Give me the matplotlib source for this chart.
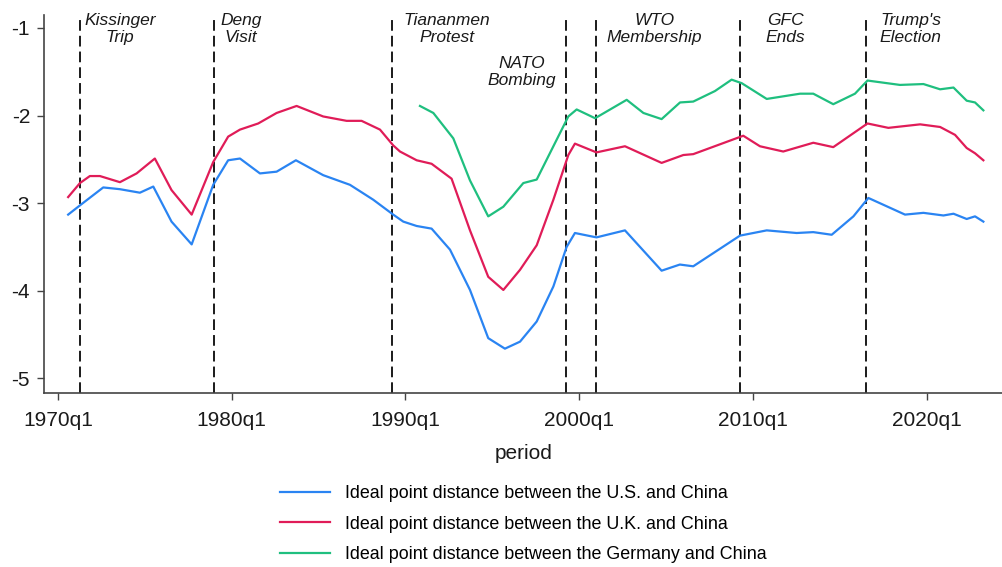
import matplotlib
matplotlib.use("Agg")
import matplotlib.pyplot as plt

plt.rcParams['font.family'] = ['Liberation Sans', 'DejaVu Sans']

# Quarterly period expressed as decimal years (1970q1 = 1970.0)
us_period = [1970.59, 1971.3, 1972.61, 1973.57, 1974.72, 1975.49, 1976.54, 1977.7,
             1978.94, 1979.8, 1980.48, 1981.63, 1982.59, 1983.7, 1985.27, 1986.81,
             1988.15, 1989.3, 1989.88, 1990.65, 1991.51, 1992.57, 1993.72, 1994.77,
             1995.73, 1996.6, 1997.56, 1998.52, 1999.28, 1999.76, 2001.0, 2002.64,
             2004.75, 2005.8, 2006.57, 2009.26, 2010.8, 2012.52, 2013.48, 2014.54,
             2015.79, 2016.65, 2018.76, 2019.82, 2020.97, 2021.55, 2022.31, 2022.79,
             2023.27]
us_dist = [-3.13, -3.02, -2.82, -2.84, -2.88, -2.81, -3.21, -3.47,
           -2.79, -2.51, -2.49, -2.66, -2.64, -2.51, -2.68, -2.79,
           -2.96, -3.13, -3.21, -3.26, -3.29, -3.53, -3.99, -4.54,
           -4.66, -4.58, -4.35, -3.95, -3.50, -3.34, -3.39, -3.31,
           -3.77, -3.70, -3.72, -3.37, -3.31, -3.34, -3.33, -3.36,
           -3.15, -2.94, -3.13, -3.11, -3.14, -3.12, -3.18, -3.15,
           -3.21]

uk_period = [1970.59, 1971.27, 1971.84, 1972.42, 1973.57, 1974.53, 1975.58, 1976.54,
             1977.7, 1978.94, 1979.8, 1980.48, 1981.53, 1982.59, 1983.74, 1985.27,
             1986.62, 1987.48, 1988.54, 1989.3, 1989.69, 1990.65, 1991.51, 1992.66,
             1993.72, 1994.77, 1995.64, 1996.6, 1997.56, 1998.52, 1999.38, 1999.76,
             2001.0, 2002.64, 2004.75, 2006.0, 2006.57, 2009.45, 2010.41, 2011.75,
             2013.48, 2014.63, 2016.6, 2017.8, 2019.63, 2020.78, 2021.64, 2022.31,
             2022.79, 2023.27]
uk_dist = [-2.93, -2.77, -2.69, -2.69, -2.76, -2.66, -2.49, -2.85,
           -3.13, -2.53, -2.24, -2.16, -2.09, -1.97, -1.89, -2.01,
           -2.06, -2.06, -2.16, -2.34, -2.41, -2.51, -2.55, -2.72,
           -3.31, -3.84, -3.99, -3.76, -3.48, -2.96, -2.45, -2.32,
           -2.42, -2.35, -2.54, -2.45, -2.44, -2.23, -2.35, -2.41,
           -2.31, -2.36, -2.09, -2.14, -2.10, -2.13, -2.22, -2.37,
           -2.43, -2.51]

de_period = [1990.84, 1991.61, 1992.76, 1993.72, 1994.77, 1995.64, 1996.79, 1997.56,
             1998.52, 1999.38, 1999.86, 2000.92, 2002.74, 2003.7, 2004.75, 2005.81,
             2006.57, 2007.82, 2008.78, 2009.36, 2010.8, 2012.72, 2013.48, 2014.63,
             2015.88, 2016.6, 2018.47, 2019.82, 2020.78, 2021.55, 2022.31, 2022.79,
             2023.27]
de_dist = [-1.89, -1.97, -2.26, -2.74, -3.15, -3.04, -2.77, -2.73,
           -2.35, -2.01, -1.93, -2.03, -1.82, -1.97, -2.04, -1.85,
           -1.84, -1.72, -1.59, -1.63, -1.81, -1.75, -1.75, -1.87,
           -1.75, -1.60, -1.65, -1.64, -1.70, -1.68, -1.83, -1.85,
           -1.94]

# Event dates and their labels
event_dates = [1971.25, 1979.0, 1989.25, 1999.25, 2001.0, 2009.25, 2016.5]
event_labels = ["Kissinger\nTrip", "Deng\nVisit", "Tiananmen\nProtest", "NATO\nBombing",
                "WTO\nMembership", "GFC\nEnds", "Trump's\nElection"]
label_x = [1973.57, 1980.54, 1992.37, 1996.71, 2004.34, 2011.85, 2019.08]
label_y = [-1.01, -1.01, -1.01, -1.50, -1.01, -1.01, -1.01]

tick_years = [1970, 1980, 1990, 2000, 2010, 2020]
tick_labels = ["1970q1", "1980q1", "1990q1", "2000q1", "2010q1", "2020q1"]

series_labels = ["Ideal point distance between the U.S. and China",
                 "Ideal point distance between the U.K. and China",
                 "Ideal point distance between the Germany and China"]
colors = ["#2a84f2", "#e01c58", "#1fbf7f"]

fig = plt.figure(figsize=(10.03, 5.67), dpi=100)
ax = fig.add_axes([44 / 1003, (567 - 393) / 567, 1 - 44 / 1003, (393 - 15) / 567])

lines = []
for xs, ys, c, lab in zip([us_period, uk_period, de_period], [us_dist, uk_dist, de_dist],
                          colors, series_labels):
    ln, = ax.plot(xs, ys, color=c, lw=1.6, label=lab, solid_joinstyle='round')
    lines.append(ln)

for d in event_dates:
    ax.axvline(d, color='#1a1a1a', lw=1.4, linestyle=(0, (5.5, 2.6)), zorder=1)

for lx, ly, txt in zip(label_x, label_y, event_labels):
    ax.text(lx, ly, txt, ha='center', va='center', multialignment='center',
            fontsize=12.5, fontstyle='italic', color='#1a1a1a', linespacing=1.2)

ax.set_xlim(1969.2, 2024.4)
ax.set_ylim(-5.166, -0.852)
ax.set_xticks(tick_years)
ax.set_xticklabels(tick_labels)
ax.set_yticks([-1, -2, -3, -4, -5])
ax.set_yticklabels(["-1", "-2", "-3", "-4", "-5"])
ax.tick_params(labelsize=15, length=5, width=1.0, color='#444444', labelcolor='#1a1a1a')
ax.tick_params(axis='x', pad=8)
ax.tick_params(axis='y', pad=5)
for s in ['top', 'right']:
    ax.spines[s].set_visible(False)
for s in ['left', 'bottom']:
    ax.spines[s].set_color('#444444')
    ax.spines[s].set_linewidth(1.2)
ax.set_xlabel("period", fontsize=15, color='#1a1a1a', labelpad=10)

fig.legend(handles=lines, labels=series_labels, loc='upper left',
           bbox_to_anchor=(280 / 1003, 1 - 485 / 567), frameon=False, fontsize=12.9,
           handlelength=2.8, handletextpad=0.85, labelspacing=0.76, borderpad=0,
           borderaxespad=0)

fig.savefig("out.png", dpi=100)
